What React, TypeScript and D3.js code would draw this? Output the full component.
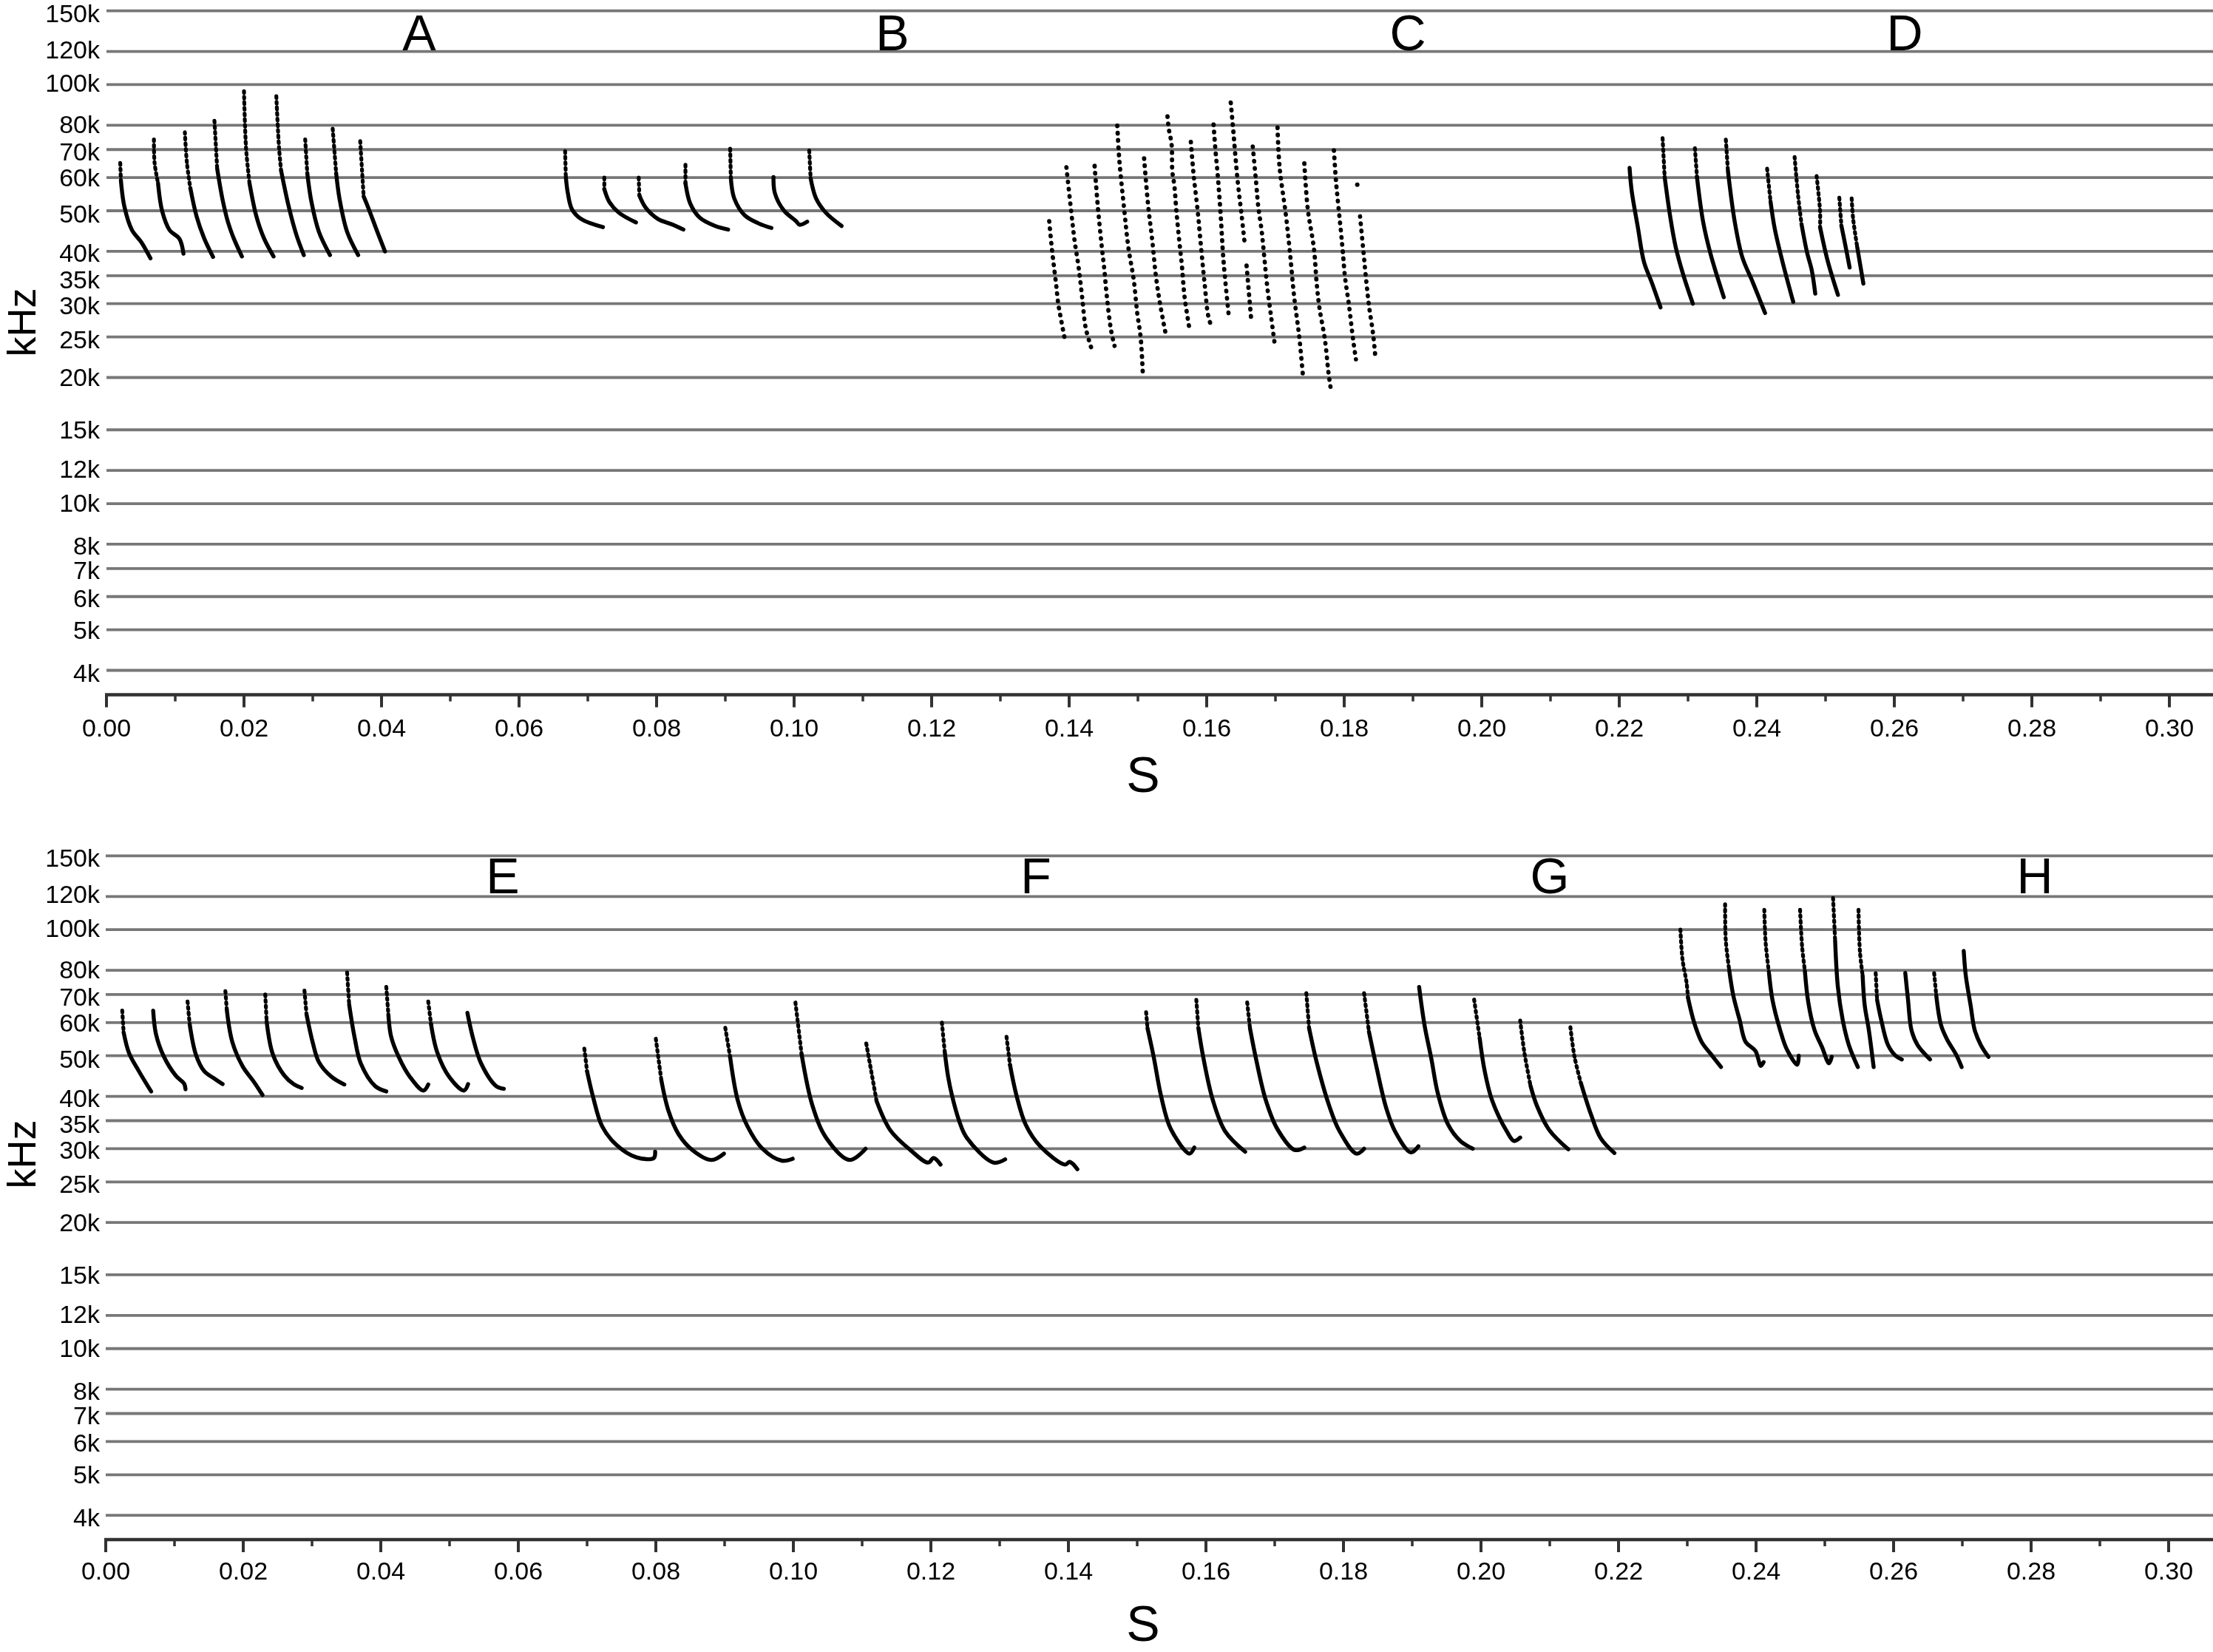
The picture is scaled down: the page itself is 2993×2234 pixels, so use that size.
import React from "react";
import * as d3 from "d3";

// ---- axis ticks -------------------------------------------------------
const freqTicks = [150, 120, 100, 80, 70, 60, 50, 40, 35, 30, 25, 20, 15, 12, 10, 8, 7, 6, 5, 4];
const timeMajor = [0, 20, 40, 60, 80, 100, 120, 140, 160, 180, 200, 220, 240, 260, 280, 300];
const timeMinor = [10, 30, 50, 70, 90, 110, 130, 150, 170, 190, 210, 230, 250, 270, 290];

// ---- sweeps: [time in ms, frequency in kHz] ------------------------------
type Sweep = number[][];
const sweepsA: Sweep[] = [
  [[2, 65], [2.1, 59], [2.6, 51.2], [3.7, 45], [5.1, 42], [6.4, 38.5]],
  [[6.9, 74], [7, 65], [7.5, 58.2], [8.1, 49.9], [9.2, 44.9], [10.6, 42.9], [11.2, 39.5]],
  [[11.4, 77], [11.7, 65], [12.2, 56.6], [13.1, 48.5], [14.2, 43], [15.5, 38.8]],
  [[15.7, 82], [16.1, 63], [16.9, 53], [17.7, 46.8], [18.5, 43], [19.7, 38.9]],
  [[20, 96.5], [20.3, 70.5], [20.8, 58.2], [21.8, 48.5], [22.9, 43], [24.3, 38.9]],
  [[24.7, 93.8], [25.1, 70.5], [25.4, 62.3], [26.5, 51.2], [27.6, 43.9], [28.7, 39.2]],
  [[28.9, 74], [29.2, 61.5], [29.8, 52.6], [30.9, 44.5], [32.5, 39.2]],
  [[32.9, 78.5], [33.4, 61.5], [33.9, 53.3], [35, 44.5], [36.6, 39.2]],
  [[36.9, 73.3], [37.4, 54.1], [38, 51.2], [39.4, 44.5], [40.5, 40]],
];
const headsA = [1, 2, 2, 1, 2, 2, 1, 1, 1];

const sweepsB: Sweep[] = [
  [[66.7, 69.4], [66.8, 60.2], [67.1, 55], [67.7, 50.4], [69.1, 47.7], [72.2, 45.7]],
  [[72.4, 60], [72.4, 56.3], [73.1, 52.6], [74.5, 49.5], [77, 46.9]],
  [[77.4, 60], [77.5, 54.4], [78.4, 50.9], [80.2, 47.8], [82.4, 46.3], [83.9, 45.1]],
  [[84.2, 64.4], [84.2, 58.2], [84.9, 52], [86.3, 48.1], [88.5, 46], [90.4, 45.1]],
  [[90.7, 70.3], [90.8, 59.8], [91.3, 53.5], [92.8, 48.8], [94.9, 46.6], [96.7, 45.5]],
  [[97, 60.2], [97.2, 55.1], [98.5, 50.1], [100.3, 47.2], [100.8, 46.3], [101.9, 47.1]],
  [[102.2, 69.6], [102.4, 59.8], [103.2, 53.5], [104.6, 49.5], [106.9, 46]],
];
const headsB = [1, 1, 1, 1, 1, 0, 1];

const sweepsC: Sweep[] = [
  [[137.1, 47.2], [137.5, 40.4], [138.1, 33.4], [138.4, 30.1], [138.7, 28.2], [139.4, 24.5]],
  [[139.6, 63.5], [140.3, 49.8], [140.8, 42.3], [141.4, 36.4], [141.9, 31], [142.4, 26.3], [143.3, 23.3]],
  [[143.7, 64], [144.2, 50.5], [144.7, 41.7], [145.1, 36.4], [145.5, 31], [146.1, 25.9], [146.6, 23.8]],
  [[147, 79.8], [147.3, 66], [148, 50.5], [148.6, 41], [149.4, 34.1], [149.9, 28.5], [150.4, 24.9], [150.7, 20.6]],
  [[150.9, 66.7], [151.5, 51.2], [152.1, 42.3], [152.6, 35.1], [153.2, 30.1], [154, 25.6]],
  [[154.3, 84], [154.5, 78.3], [154.9, 72], [155, 62.2], [155.3, 57.4], [155.6, 49.8], [156, 42.6], [156.4, 36.9], [156.8, 31], [157.5, 26.1]],
  [[157.7, 73], [158.1, 61], [158.7, 49.8], [159.2, 40.6], [159.7, 33.5], [160.2, 28.2], [160.6, 26.7]],
  [[161, 80.3], [161.3, 69], [161.6, 61], [162, 49.8], [162.4, 38.9], [162.7, 34.1], [163.2, 28.2]],
  [[163.5, 90.6], [163.8, 80], [164.5, 59], [165.1, 48.5], [165.5, 42.2]],
  [[165.8, 37], [166.5, 27.2]],
  [[166.7, 71.2], [167.2, 58.2], [167.5, 51.2], [168, 44.7], [168.4, 38.4], [168.8, 33], [169.4, 27.7], [169.9, 24]],
  [[170.3, 79], [170.6, 63.6], [171.5, 49.1], [172.1, 39.9], [172.7, 31.4], [173.3, 26.3], [173.5, 24.7], [174, 20.2]],
  [[174.2, 64.9], [174.7, 50.5], [175.6, 40.6], [176, 33.5], [176.4, 29.3], [177.2, 24.6], [177.7, 20.6], [178, 19]],
  [[178.5, 69.7], [178.8, 59], [179, 54.3], [179.5, 45], [179.8, 39.9], [180.1, 34.9], [180.7, 29.7], [181.3, 24.6], [181.7, 22.1]],
  [[182.3, 48.5], [182.8, 39.9], [183.2, 34.1], [183.6, 29.7], [184.2, 25.4], [184.5, 22.7]],
];
const strayC: number[][] = [[181.9, 57.7]];

const sweepsD: Sweep[] = [
  [[221.5, 63.3], [221.8, 55.9], [222.7, 45.7], [223.6, 37.7], [224.7, 33.8], [226, 29.4]],
  [[226.3, 74.5], [226.6, 60.2], [227.4, 48.5], [228.2, 41], [229.3, 35.2], [230.7, 30]],
  [[231, 70.5], [231.3, 60.2], [232.2, 47], [233.3, 39.3], [235.2, 31.1]],
  [[235.5, 73.9], [235.8, 62.3], [236.8, 47], [237.9, 38.7], [239.4, 33.8], [241.2, 28.5]],
  [[241.5, 63], [242, 52.6], [242.6, 45.4], [243.7, 38], [245.3, 30.3]],
  [[245.5, 67.2], [246, 54.5], [246.5, 46.5], [247.3, 39.8], [248, 36], [248.5, 31.7]],
  [[248.7, 60.5], [249.2, 49.8], [249.2, 45.7], [250.3, 38], [251.8, 31.5]],
  [[252, 53.7], [252.3, 46.1], [253, 40.4], [253.5, 36.6]],
  [[253.8, 53.5], [254, 48], [254.6, 41], [255.5, 33.5]],
];
const headsD = [0, 1, 1, 1, 1, 2, 2, 1, 2];

const sweepsE: Sweep[] = [
  [[2.4, 64.1], [2.6, 56.9], [3.4, 50.7], [4.8, 46], [6.6, 41.1]],
  [[6.9, 64.1], [7.3, 56.4], [8.4, 50], [10.2, 44.8], [11.4, 42.9], [11.6, 41.6]],
  [[11.9, 67.4], [12.2, 59.6], [13.1, 50.4], [14.3, 46], [15.9, 44], [17, 42.8]],
  [[17.4, 71.3], [17.6, 64.5], [18.4, 54], [19.9, 47.2], [21.6, 43.2], [22.8, 40.3]],
  [[23.2, 70], [23.4, 60.4], [24.3, 50.4], [26, 44.8], [27.4, 42.7], [28.5, 41.9]],
  [[28.9, 71.5], [29.2, 62.8], [30.1, 53.8], [31, 48.3], [32.8, 44.6], [34.7, 42.7]],
  [[35.1, 79], [35.4, 66.3], [36.2, 55.2], [37.1, 47.9], [39.2, 42.3], [40.8, 41.1]],
  [[40.8, 73], [41.1, 62.8], [41.5, 55.6], [42.6, 49.7], [44.2, 44.6], [46.2, 41.3], [46.9, 42.7]],
  [[46.9, 67.4], [47.3, 59.6], [48.2, 51], [50, 44.4], [52.1, 41.3], [52.7, 42.8]],
  [[52.6, 63.3], [53.4, 55.2], [54.6, 47.9], [56.8, 42.3], [57.9, 41.7]],
];
const headsE = [1, 0, 1, 1, 1, 1, 1, 1, 1, 0];

const sweepsF: Sweep[] = [
  [[69.6, 52], [70, 45.9], [70.9, 39.7], [72.2, 33.9], [74.3, 30.6], [77.2, 28.6], [79.7, 28.5], [79.9, 29.5]],
  [[80, 54.9], [80.8, 43.7], [81.8, 37.1], [83.3, 32.5], [85.4, 29.7], [88.1, 28.2], [89.9, 29.2]],
  [[90.1, 58.3], [90.8, 49.7], [91.9, 39.2], [93.3, 34], [95.5, 30], [98.3, 28.1], [99.9, 28.4]],
  [[100.3, 67], [101.2, 50.4], [102.8, 37.9], [104.8, 31.8], [108.2, 28.2], [110.5, 30]],
  [[110.6, 53.5], [112.1, 39], [114.1, 33.2], [117, 29.8], [119.6, 27.8], [120.4, 28.5], [121.4, 27.5]],
  [[121.6, 60], [122, 51.3], [122.5, 44.6], [123.1, 40], [124.1, 35], [125.2, 31.9], [129.1, 27.8], [130.8, 28.3]],
  [[131, 55.5], [131.5, 47.6], [132.4, 40.5], [133.8, 34.2], [135.9, 30.4], [139.5, 27.5], [140.2, 27.9], [141.3, 26.8]],
];

const sweepsG: Sweep[] = [
  [[151.3, 63.5], [151.5, 58.2], [152.4, 49.7], [153.5, 39.9], [154.9, 33.4], [157.6, 29.2], [158.3, 30.2]],
  [[158.6, 68], [158.9, 58.2], [159.6, 49.7], [161, 39.2], [162.8, 33], [165.7, 29.5]],
  [[166, 67], [166.4, 58.2], [167.3, 49], [168.7, 39.2], [170.4, 33.4], [172.9, 29.8], [174.3, 30.2]],
  [[174.6, 70.5], [175, 58.2], [176.1, 48.3], [177.9, 38.1], [179.4, 33.1], [181.9, 29.2], [183, 30]],
  [[183, 70.5], [183.7, 57.1], [184.8, 47], [186.2, 37.6], [187.5, 33], [189.8, 29.4], [190.9, 30.4]],
  [[191, 73], [191.8, 59], [192.8, 49], [193.7, 40.8], [195.2, 34.3], [197, 31.3], [198.8, 30]],
  [[199, 68.1], [199.8, 55.2], [200.5, 46.3], [201.6, 39.2], [203.8, 32.9], [204.8, 31.3], [205.7, 31.9]],
  [[205.7, 60.7], [206.3, 51], [207.2, 42.4], [208.1, 38.1], [209.9, 33.3], [212.7, 29.9]],
  [[213, 58.5], [213.6, 49.7], [214.5, 43.2], [216, 36.2], [217.4, 31.8], [219.4, 29.3]],
];
const headsG = [1, 1, 1, 1, 1, 0, 1, 2, 2];

const sweepsH: Sweep[] = [
  [[229, 100], [229.3, 85], [229.9, 74.6], [230.1, 68.8], [231, 60], [232.1, 53.9], [233.5, 50.3], [234.9, 47]],
  [[235.5, 115], [235.6, 94.2], [236.1, 80], [236.7, 69.5], [237.6, 61], [238.5, 53.9], [239.9, 51.4], [240.7, 47.3], [241.1, 48.3]],
  [[241.2, 111.5], [241.4, 92.9], [241.9, 78.3], [242.4, 67.8], [243.5, 57.6], [244.5, 51.7], [246, 47.6], [246.2, 50]],
  [[246.4, 111.5], [246.7, 91], [247.1, 79.7], [247.6, 67], [248.5, 57.6], [249.6, 52.4], [250.6, 48], [251, 49.7]],
  [[251.2, 119], [251.5, 94], [251.9, 73], [252.6, 60.9], [253.5, 53], [254.8, 47]],
  [[254.9, 111.5], [255.1, 88.9], [255.5, 77.7], [255.8, 66], [256.4, 57.6], [257.1, 47]],
  [[257.4, 78.7], [257.6, 68], [258.2, 60.9], [259.2, 53], [260.3, 50], [261.2, 49]],
  [[261.7, 78.8], [262.1, 68], [262.6, 57.6], [263.5, 53], [265.3, 49]],
  [[265.9, 78.7], [266.2, 69.8], [266.9, 59.2], [267.8, 54.6], [269.1, 50.3], [269.9, 47]],
  [[270.2, 89], [270.5, 77.7], [271.2, 66], [271.8, 57.6], [272.7, 53], [273.8, 49.7]],
];
const headsH = [3, 2, 2, 2, 1, 2, 1, 0, 1, 0];

const lettersTop = [["A", 567], ["B", 1207], ["C", 1904], ["D", 2576]] as const;
const lettersBottom = [["E", 680], ["F", 1401], ["G", 2096], ["H", 2752]] as const;

const FONT = '"Liberation Sans", Arial, sans-serif';
const W = 2993;
const H = 2234;
const INK = "#000";
const GRID = "#777";
// vertical slip of each tick label relative to its line, as typeset in the original
const labelSlip: Record<number, number> = {
  150: 0, 120: -6, 100: -5, 80: -4, 70: 0, 60: -3, 50: 1, 40: -1, 35: 2, 30: -1,
  25: 0, 20: -3, 15: -3, 12: -5, 10: -4, 8: -1, 7: -1, 6: -1, 5: -3, 4: 0,
};

function SweepMark({ sweep, head, x, y, allDots }: { sweep: Sweep; head: number; x: any; y: any; allDots?: boolean }) {
  const line = d3
    .line<number[]>()
    .x((d) => x(d[0]))
    .y((d) => y(d[1]))
    .curve(d3.curveCatmullRom.alpha(0.5));
  if (allDots) {
    return <path d={line(sweep) ?? ""} fill="none" stroke={INK} strokeWidth={5.8} strokeLinecap="round" strokeDasharray="0.8 9" />;
  }
  return (
    <g fill="none" stroke={INK} strokeLinecap="round" strokeLinejoin="round">
      {head > 0 && <path d={line(sweep.slice(0, head + 1)) ?? ""} strokeWidth={5.2} strokeDasharray="2.4 5.2" />}
      <path d={line(sweep.slice(head)) ?? ""} strokeWidth={5.4} />
    </g>
  );
}

function Panel({
  x0,
  dy,
  letters,
  letterY,
  axisY,
  labelY,
  sLabelY,
  kHzY,
  groups,
  strays,
}: {
  x0: number;
  dy: number;
  letters: readonly (readonly [string, number])[];
  letterY: number;
  axisY: number;
  labelY: number;
  sLabelY: number;
  kHzY: number;
  groups: { sweeps: Sweep[]; heads?: number[]; allDots?: boolean }[];
  strays: number[][];
}) {
  const x = d3.scaleLinear().domain([0, 300]).range([x0, x0 + 2790]);
  const y = d3.scaleLog().domain([150, 4]).range([14.7 + dy, 906.5 + dy]);
  return (
    <g fontFamily={FONT} fill="#000">
      {freqTicks.map((f) => (
        <g key={f}>
          <line x1={x0} x2={W} y1={y(f)} y2={y(f)} stroke={GRID} strokeWidth={3.8} />
          <text x={135} y={y(f) + 15 + labelSlip[f]} fontSize={34} textAnchor="end">
            {f}k
          </text>
        </g>
      ))}
      <line x1={x0 - 2} x2={W} y1={axisY} y2={axisY} stroke="#333" strokeWidth={4.5} />
      {timeMajor.map((t) => (
        <g key={t}>
          <line x1={x(t)} x2={x(t)} y1={axisY} y2={axisY + 17} stroke="#333" strokeWidth={4} />
          <text x={x(t)} y={labelY} fontSize={34} textAnchor="middle">
            {(t / 1000).toFixed(2)}
          </text>
        </g>
      ))}
      {timeMinor.map((t) => (
        <line key={t} x1={x(t)} x2={x(t)} y1={axisY} y2={axisY + 9} stroke="#333" strokeWidth={3.5} />
      ))}
      {groups.map((g, i) => (
        <g key={i}>
          {g.sweeps.map((s, j) => (
            <SweepMark key={j} sweep={s} head={g.heads ? g.heads[j] : 1} x={x} y={y} allDots={g.allDots} />
          ))}
        </g>
      ))}
      {strays.map((p, i) => (
        <circle key={i} cx={x(p[0])} cy={y(p[1])} r={3} fill={INK} />
      ))}
      {letters.map(([l, lx]) => (
        <text key={l} x={lx} y={letterY} fontSize={68} textAnchor="middle">
          {l}
        </text>
      ))}
      <text x={1546} y={sLabelY} fontSize={68} textAnchor="middle">
        S
      </text>
      <text transform={`translate(48,${kHzY}) rotate(-90)`} fontSize={54} textAnchor="middle">
        kHz
      </text>
    </g>
  );
}

export default function App() {
  return (
    <svg width={W} height={H} viewBox={`0 0 ${W} ${H}`} style={{ position: "absolute", left: 0, top: 0, background: "#fff" }}>
      <defs>
        <filter id="soft" x="0" y="0" width="100%" height="100%">
          <feGaussianBlur stdDeviation={0.7} />
        </filter>
      </defs>
      <g filter="url(#soft)">
        <Panel
          x0={144}
          dy={0}
          letters={lettersTop}
          letterY={68}
          axisY={939.5}
          labelY={996}
          sLabelY={1071}
          kHzY={436}
          groups={[
            { sweeps: sweepsA, heads: headsA },
            { sweeps: sweepsB, heads: headsB },
            { sweeps: sweepsC, allDots: true },
            { sweeps: sweepsD, heads: headsD },
          ]}
          strays={strayC}
        />
        <Panel
          x0={143}
          dy={1142.7}
          letters={lettersBottom}
          letterY={1208}
          axisY={2082}
          labelY={2136}
          sLabelY={2219}
          kHzY={1561}
          groups={[
            { sweeps: sweepsE, heads: headsE },
            { sweeps: sweepsF },
            { sweeps: sweepsG, heads: headsG },
            { sweeps: sweepsH, heads: headsH },
          ]}
          strays={[]}
        />
      </g>
    </svg>
  );
}
